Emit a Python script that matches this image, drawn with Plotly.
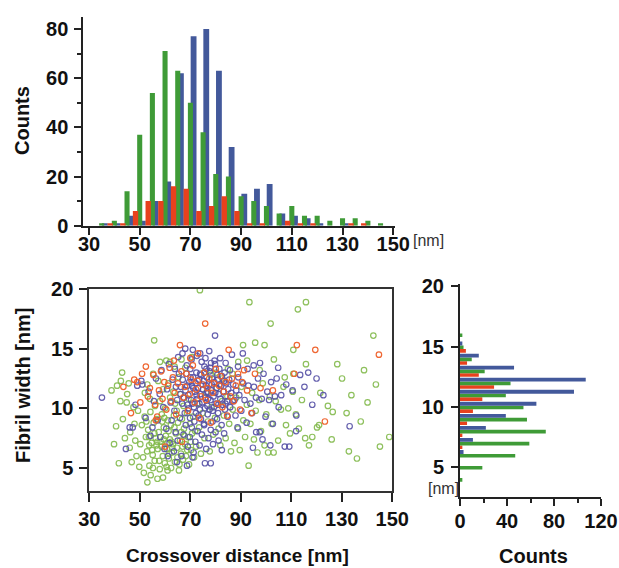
import plotly.graph_objects as go

# ---------------- data ----------------
top_bins = [35, 40, 45, 50, 55, 60, 65, 70, 75, 80, 85, 90, 95, 100, 105, 110, 115, 120, 125, 130, 135, 140, 145]
green_top = [1, 2, 14, 37, 54, 71, 63, 50, 38, 21, 20, 12, 10, 8, 5, 8, 4, 4, 2, 3, 3, 2, 1]
blue_top = [1, 1, 4, 2, 10, 18, 62, 77, 80, 63, 32, 13, 15, 17, 5, 4, 3, 1, 0, 1, 0, 0, 0]
red_top = [1, 1, 6, 10, 10, 16, 15, 6, 8, 12, 6, 1, 1, 0, 2, 1, 1, 0, 0, 1, 1, 0, 0]

side_bins = [4, 5, 6, 7, 8, 9, 10, 11, 12, 13, 14, 15, 16]
green_side = [2, 19, 47, 59, 73, 57, 54, 39, 43, 21, 10, 3, 2]
blue_side = [0, 0, 3, 11, 22, 39, 65, 97, 107, 46, 16, 2, 0]
red_side = [0, 0, 0, 2, 2, 6, 11, 19, 29, 16, 6, 5, 0]

top_ticks = [30, 50, 70, 90, 110, 130, 150]
count_ticks = [0, 20, 40, 60, 80]
width_ticks = [5, 10, 15, 20]
side_count_ticks = [0, 40, 80, 120]

green_pts = [
    (50.2, 7.0), (50.8, 8.6), (51.3, 5.9), (51.9, 9.3), (52.4, 7.6), (52.9, 6.4), (53.3, 8.2), (53.8, 5.2),
    (54.2, 9.7), (54.7, 7.1), (55.1, 6.1), (55.5, 8.8), (55.9, 5.6), (56.3, 7.5), (56.7, 9.1), (57.1, 6.6),
    (57.5, 8.0), (57.9, 4.9), (58.3, 7.2), (58.7, 9.5), (59.1, 6.0), (59.5, 8.4), (59.9, 5.4), (60.3, 7.7),
    (60.7, 6.6), (61.1, 9.0), (61.5, 5.8), (61.9, 7.4), (62.3, 8.6), (62.7, 6.3), (63.1, 7.0), (63.5, 9.4),
    (63.9, 5.5), (64.3, 7.9), (64.7, 6.7), (65.1, 8.8), (65.5, 4.8), (65.9, 7.3), (66.3, 6.2), (66.7, 9.1),
    (67.1, 5.7), (67.5, 8.3), (67.9, 7.0), (68.3, 6.0), (68.7, 9.6), (69.1, 7.6), (69.5, 5.3), (69.9, 8.7),
    (70.3, 6.5), (70.7, 7.9), (71.1, 9.3), (71.5, 5.9), (71.9, 8.1), (72.3, 6.8), (56.0, 10.2), (58.0, 10.6),
    (60.0, 10.0), (62.0, 10.9), (64.0, 10.4), (66.0, 11.2), (54.0, 10.8), (52.0, 11.3), (59.2, 11.6), (61.3, 12.1),
    (63.3, 11.4), (65.3, 12.6), (57.3, 12.3), (55.3, 12.9), (53.0, 12.0), (67.3, 10.2), (69.3, 10.8), (48.7, 6.0),
    (47.9, 8.7), (49.3, 9.8), (48.2, 7.3), (46.8, 5.5), (47.5, 10.1), (49.8, 5.1), (51.6, 4.6), (54.3, 4.4),
    (57.0, 4.1), (59.2, 4.2), (61.0, 4.8), (62.4, 5.0), (58.6, 6.8), (60.9, 7.1), (56.6, 6.9), (62.6, 7.2),
    (53.7, 6.9), (64.9, 5.9), (55.8, 7.9), (61.7, 6.2), (59.7, 9.2), (57.7, 5.6), (63.7, 8.4), (66.9, 6.8),
    (52.6, 8.9), (54.9, 6.5), (58.9, 8.9), (60.6, 5.1), (62.9, 6.7), (64.6, 9.8), (66.4, 8.0), (68.8, 6.5),
    (70.2, 7.2), (56.9, 7.2), (55.2, 5.0), (65.7, 5.3), (67.7, 7.7), (61.4, 8.1), (59.5, 7.4), (53.6, 7.6),
    (39.8, 7.0), (41.7, 5.4), (38.8, 11.5), (41.0, 11.9), (42.5, 12.3), (43.3, 9.1), (44.1, 7.5), (44.8, 10.5),
    (45.6, 12.1), (46.2, 8.0), (43.0, 13.0), (45.0, 11.2), (40.6, 8.5), (53.0, 3.8), (46.0, 6.7), (42.3, 10.6),
    (55.7, 15.7), (58.0, 13.9), (60.5, 14.0), (62.0, 13.9), (63.8, 13.5), (66.5, 14.1), (68.0, 13.4), (70.6, 14.3),
    (73.8, 19.9), (75.5, 13.0), (78.0, 12.8), (80.3, 13.0), (82.7, 12.5), (84.9, 13.3), (86.7, 12.9), (89.0, 13.9),
    (90.9, 15.3), (92.5, 14.0), (93.4, 18.9), (95.7, 15.5), (97.5, 13.2), (99.4, 15.3), (101.8, 17.1), (103.1, 14.1),
    (107.4, 12.6), (110.8, 14.9), (112.6, 18.3), (115.8, 18.9), (115.8, 13.7), (128.2, 13.7), (142.5, 16.1), (143.5, 12.0),
    (133.8, 11.1), (110.8, 12.9),
    (72.8, 10.4), (73.5, 8.4), (74.2, 6.2), (74.9, 9.6), (75.6, 7.5), (76.3, 11.3), (77.0, 8.9), (77.7, 6.4),
    (78.4, 10.1), (79.1, 7.8), (79.8, 9.2), (80.5, 11.7), (81.2, 8.3), (81.9, 6.9), (82.6, 10.6), (83.3, 9.4),
    (84.0, 7.5), (84.7, 11.0), (85.4, 8.7), (86.1, 6.4), (86.8, 9.9), (87.5, 7.1), (88.2, 10.9), (88.9, 8.3),
    (89.6, 6.5), (90.3, 11.8), (91.0, 9.0), (91.7, 7.6), (92.4, 10.3), (93.1, 5.2), (93.8, 8.7), (94.5, 11.3),
    (95.2, 7.4), (95.9, 9.8), (96.6, 6.3), (97.3, 10.7), (98.0, 8.1), (98.7, 12.1), (99.4, 6.9), (100.1, 9.5),
    (100.8, 6.3), (101.5, 11.0), (102.2, 8.7), (103.0, 6.3), (103.8, 10.6), (104.8, 7.3), (105.9, 9.9), (106.9, 11.8),
    (107.9, 8.6), (108.8, 10.0), (109.5, 7.9), (110.6, 11.4), (111.8, 9.5), (113.0, 8.3), (114.2, 10.7), (115.5, 7.5),
    (117.0, 6.9), (118.3, 7.6), (120.2, 8.4), (121.0, 8.6), (121.5, 11.3), (126.4, 9.7), (131.9, 9.6), (148.8, 7.6),
    (132.8, 6.4), (136.0, 5.8), (124.5, 10.2), (130.1, 12.5), (137.5, 8.9), (140.2, 10.5), (145.1, 6.8), (138.8, 13.2),
    (126.0, 7.4),
]

blue_pts = [
    (66.2, 11.8), (67.0, 12.4), (67.5, 10.9), (68.1, 11.5), (68.4, 12.9), (68.9, 10.3), (69.2, 11.1), (69.6, 12.2),
    (70.0, 13.3), (70.3, 10.7), (70.7, 11.9), (71.1, 12.6), (71.4, 10.1), (71.8, 11.4), (72.1, 12.1), (72.4, 13.0),
    (72.8, 10.8), (73.1, 11.7), (73.5, 12.4), (73.8, 9.9), (74.0, 11.2), (74.3, 12.8), (74.7, 10.5), (75.0, 11.6),
    (75.3, 12.3), (75.6, 13.5), (75.9, 10.9), (76.2, 11.9), (76.5, 12.6), (76.8, 10.2), (77.1, 11.3), (77.4, 12.0),
    (77.7, 13.1), (78.0, 10.7), (78.3, 11.5), (78.6, 12.5), (78.9, 9.8), (79.2, 11.0), (79.5, 12.2), (79.8, 13.7),
    (80.1, 10.4), (80.4, 11.7), (80.7, 12.8), (81.0, 9.6), (81.3, 11.2), (81.6, 12.0), (81.9, 10.8), (82.2, 11.9),
    (82.5, 12.7), (82.8, 10.3), (83.1, 11.4), (83.4, 12.3), (83.7, 9.9), (84.0, 11.0), (84.3, 12.1), (84.6, 10.6),
    (85.0, 11.6), (85.4, 12.4), (85.8, 10.1), (86.2, 11.3),
    (67.8, 9.6), (68.6, 13.6), (69.9, 9.2), (70.5, 14.1), (71.6, 8.9), (72.6, 14.4), (73.3, 9.4), (74.5, 13.9),
    (75.4, 8.7), (76.0, 14.2), (76.9, 9.5), (77.9, 13.4), (78.8, 8.9), (79.6, 14.0), (80.6, 9.1), (81.5, 13.3),
    (82.4, 8.6), (83.6, 13.0), (84.8, 9.3), (85.7, 13.2), (66.8, 10.4), (87.0, 12.0), (87.5, 10.7), (88.2, 11.5),
    (89.0, 12.6), (65.5, 12.9), (64.8, 10.7), (64.3, 11.8), (63.7, 9.8), (63.0, 12.4),
    (72.5, 11.1), (74.9, 12.0), (76.7, 11.4), (78.5, 12.0), (73.6, 10.4), (77.0, 10.8), (79.9, 11.3), (71.2, 11.7),
    (69.4, 10.0), (70.9, 10.4), (72.2, 9.6), (74.2, 9.1), (75.8, 10.0), (77.6, 9.9), (79.4, 10.1), (81.1, 10.3),
    (68.8, 11.9), (73.9, 12.9), (76.4, 13.3), (78.2, 13.8), (80.9, 12.4), (70.1, 12.6), (66.1, 11.2), (83.9, 10.4),
    (60.5, 8.3), (61.8, 7.1), (62.6, 9.0), (63.5, 6.4), (64.2, 8.0), (65.0, 7.3), (65.9, 9.2), (66.5, 6.0),
    (67.3, 7.8), (68.2, 8.6), (69.0, 6.8), (69.8, 7.6), (70.6, 8.4), (71.3, 6.3), (72.0, 7.2), (72.9, 8.1),
    (73.7, 6.9), (74.6, 7.8), (75.5, 8.6), (76.3, 6.6), (77.2, 7.5), (78.1, 8.2), (79.0, 7.0), (80.0, 8.0),
    (81.2, 7.3), (82.5, 6.5), (83.4, 7.9), (75.8, 5.4), (70.9, 5.9), (64.7, 5.5), (68.7, 5.2), (78.1, 5.4),
    (35.0, 10.9), (44.5, 6.6), (46.0, 8.4), (47.2, 8.4), (48.3, 10.3), (49.0, 11.9), (51.0, 12.0), (52.3, 9.2),
    (53.5, 11.4), (54.2, 7.7), (55.6, 10.6), (56.4, 12.5), (57.1, 9.0), (57.9, 11.2), (58.6, 13.2), (59.3, 10.1),
    (59.8, 6.6), (60.8, 11.6), (61.5, 13.7), (62.2, 10.5), (55.0, 8.4), (50.6, 12.3), (58.1, 7.6), (61.1, 6.0),
    (65.2, 14.3), (66.9, 14.6), (68.0, 15.0), (71.0, 14.9), (73.9, 14.6), (77.5, 14.8), (79.8, 16.1), (81.8, 14.2),
    (84.0, 13.8), (86.5, 14.5), (88.9, 13.5), (90.8, 14.6), (92.7, 13.3), (95.1, 13.6), (97.6, 13.8), (63.9, 13.3),
    (86.8, 10.6), (87.9, 9.4), (88.7, 8.4), (89.4, 11.1), (90.2, 9.8), (90.9, 12.1), (91.5, 10.7), (92.3, 8.8),
    (93.0, 11.9), (93.8, 10.4), (94.5, 9.6), (95.2, 11.8), (96.0, 10.9), (96.8, 12.5), (97.5, 8.0), (98.3, 10.8),
    (99.0, 12.9), (99.8, 9.3), (100.5, 11.4), (101.2, 10.7), (102.0, 12.2), (102.7, 8.7), (103.5, 11.0), (104.2, 12.5),
    (105.0, 10.1), (106.0, 11.1), (101.7, 6.9), (98.6, 7.4), (96.1, 8.0), (94.8, 6.7), (107.4, 6.8), (109.2, 6.8),
    (111.9, 8.1), (112.0, 9.4), (113.5, 12.8), (115.2, 11.8), (116.7, 13.0), (118.3, 10.3), (120.0, 12.5), (122.7, 11.1),
    (133.1, 8.5), (104.8, 13.4), (108.0, 12.0), (110.5, 11.5),
]

red_pts = [
    (43.5, 11.8), (46.5, 9.6), (47.8, 12.4), (49.0, 12.2), (50.2, 10.5), (50.9, 12.9), (52.4, 13.5), (53.2, 11.0),
    (54.0, 11.7), (55.4, 12.8), (56.1, 10.3), (56.9, 9.3), (57.6, 11.5), (58.4, 13.1), (59.0, 10.8), (59.7, 12.2),
    (60.0, 6.8), (60.5, 9.9), (61.2, 11.9), (61.8, 13.4), (62.5, 10.6), (63.1, 12.6), (63.8, 11.3), (64.4, 9.5),
    (65.1, 12.1), (65.9, 15.3), (66.5, 13.1), (66.7, 7.2), (67.2, 10.9), (67.9, 11.8), (68.5, 12.9), (69.1, 9.8),
    (69.8, 11.2), (70.4, 12.4), (71.0, 13.6), (71.7, 10.5), (72.3, 11.6), (72.9, 12.3), (73.6, 9.2), (74.2, 11.0),
    (74.9, 12.0), (75.5, 13.0), (75.9, 17.1), (76.2, 10.7), (76.8, 11.7), (77.5, 12.5), (78.1, 8.8), (78.8, 11.3),
    (79.4, 12.1), (80.1, 13.3), (80.7, 10.4), (81.4, 11.9), (82.0, 12.7), (82.7, 10.1), (83.3, 11.4), (84.0, 12.2),
    (84.6, 9.4), (85.2, 14.9), (85.9, 11.0), (86.5, 12.5), (87.2, 10.6), (88.0, 11.9), (88.9, 12.9), (89.7, 9.9),
    (90.5, 12.2), (91.3, 13.2), (92.5, 11.5), (94.2, 9.6), (95.6, 12.9), (97.8, 11.7), (102.7, 11.5), (111.2, 12.9),
    (112.2, 15.3), (119.5, 14.9), (123.3, 8.9), (144.7, 14.5), (56.3, 9.0), (70.0, 14.2), (73.1, 14.6), (63.5, 14.0),
]

# ---------------- styles ----------------
GREEN_BAR = "#3f9b37"
BLUE_BAR = "#43599b"
RED_BAR = "#e8411d"
GREEN_PT = "rgba(130,185,75,0.9)"
BLUE_PT = "rgba(85,80,165,0.9)"
RED_PT = "rgba(238,95,40,0.95)"
FONT = "Liberation Sans, Arial, sans-serif"
AX = "#222222"

fig = go.Figure()

# top histogram (overlapping offset bars)
fig.add_trace(go.Bar(x=top_bins, y=blue_top, offset=0.1, width=2.3, marker=dict(color=BLUE_BAR, line=dict(width=0)), xaxis="x", yaxis="y"))
fig.add_trace(go.Bar(x=top_bins, y=green_top, offset=-1.0, width=2.0, marker=dict(color=GREEN_BAR, line=dict(width=0)), xaxis="x", yaxis="y"))
fig.add_trace(go.Bar(x=top_bins, y=red_top, offset=2.3, width=2.1, marker=dict(color=RED_BAR, line=dict(width=0)), xaxis="x", yaxis="y"))

# scatter
for pts, col in [(green_pts, GREEN_PT), (blue_pts, BLUE_PT), (red_pts, RED_PT)]:
    fig.add_trace(go.Scatter(
        x=[p[0] for p in pts], y=[p[1] for p in pts], mode="markers",
        marker=dict(symbol="circle-open", size=5.5, color=col, line=dict(width=1.2, color=col)),
        xaxis="x2", yaxis="y2", cliponaxis=True))

# side histogram (horizontal)
fig.add_trace(go.Bar(y=side_bins, x=red_side, orientation="h", offset=-0.5, width=0.3, marker=dict(color=RED_BAR, line=dict(width=0)), xaxis="x3", yaxis="y3"))
fig.add_trace(go.Bar(y=side_bins, x=green_side, orientation="h", offset=-0.2, width=0.3, marker=dict(color=GREEN_BAR, line=dict(width=0)), xaxis="x3", yaxis="y3"))
fig.add_trace(go.Bar(y=side_bins, x=blue_side, orientation="h", offset=0.1, width=0.32, marker=dict(color=BLUE_BAR, line=dict(width=0)), xaxis="x3", yaxis="y3"))

tickfont = dict(family=FONT, size=20, color="#111111", weight="bold")
base = dict(showline=True, linecolor=AX, linewidth=2, ticks="outside", tickcolor=AX, tickwidth=2,
            ticklen=7, showgrid=False, zeroline=False, tickfont=tickfont, fixedrange=True, automargin=False)

W, H = 619, 568
def fx(px):
    return px / W
def fy(py):
    return 1 - py / H

fig.update_layout(
    width=W, height=H, margin=dict(l=0, r=0, t=0, b=0, autoexpand=False),
    paper_bgcolor="white", plot_bgcolor="white", showlegend=False, barmode="overlay",
    xaxis=dict(base, domain=[fx(83.3), fx(395)], range=[27.75, 150.7], tickvals=top_ticks, anchor="y", ticklabelstandoff=-8),
    yaxis=dict(base, domain=[fy(225.7), fy(16.7)], range=[0, 85], tickvals=count_ticks, anchor="x",
               minor=dict(tickvals=[10, 30, 50, 70], ticklen=4, tickwidth=2, tickcolor=AX, ticks="outside"), ticklabelstandoff=2),
    xaxis2=dict(base, domain=[fx(89.3), fx(392.3)], range=[30, 150], tickvals=top_ticks, anchor="y2",
                mirror=True, ticklen=9, ticklabelstandoff=0, linecolor="#333333"),
    yaxis2=dict(base, domain=[fy(490.7), fy(289)], range=[3.1, 20], tickvals=width_ticks, anchor="x2",
                mirror=True, ticklen=8, ticklabelstandoff=2, linecolor="#333333"),
    xaxis3=dict(base, domain=[fx(460), fx(601)], range=[0, 120], tickvals=side_count_ticks, anchor="y3",
                minor=dict(tickvals=[20, 60, 100], ticklen=4, tickwidth=2, tickcolor=AX, ticks="outside"), ticklabelstandoff=-2),
    yaxis3=dict(base, domain=[fy(496.7), fy(284)], range=[2.55, 20.2], tickvals=width_ticks, anchor="x3", ticklabelstandoff=3),
)

title_font = dict(family=FONT, size=20, color="#111111", weight="bold")
ann = [
    dict(text="Counts", x=fx(22), y=fy(121), textangle=-90, font=title_font),
    dict(text="Fibril width [nm]", x=fx(23), y=fy(385), textangle=-90, font=title_font),
    dict(text="Crossover distance [nm]", x=fx(237), y=fy(555), font=dict(title_font, size=19)),
    dict(text="Counts", x=fx(533), y=fy(556), font=title_font),
    dict(text="[nm]", x=fx(428), y=fy(241), font=dict(family=FONT, size=16, color="#333333")),
    dict(text="[nm]", x=fx(443), y=fy(488), font=dict(family=FONT, size=16, color="#333333")),
]
for a in ann:
    a.update(xref="paper", yref="paper", showarrow=False, xanchor="center", yanchor="middle")
fig.update_layout(annotations=ann)

fig.write_html("out.html", config={"displayModeBar": False, "staticPlot": True},
               post_script="document.body.style.margin='0';document.body.style.overflow='hidden';")
